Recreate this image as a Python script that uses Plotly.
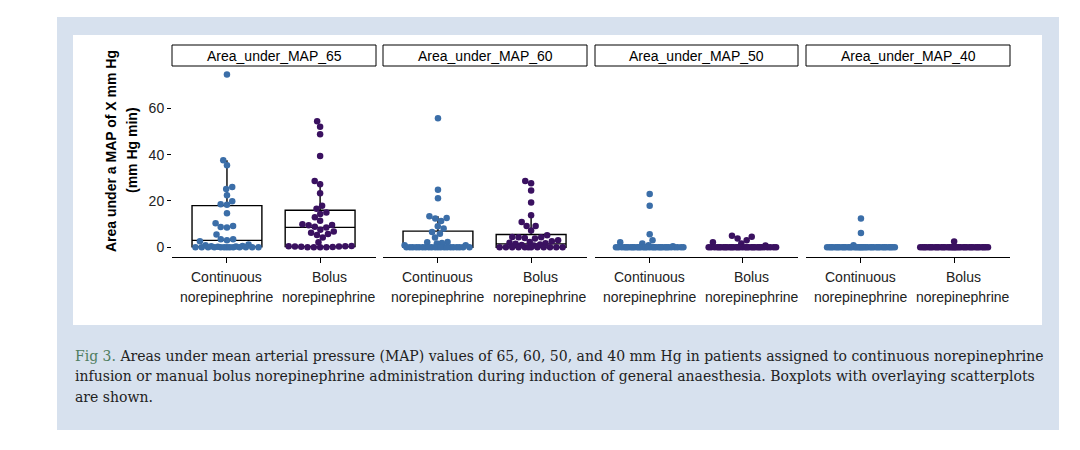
import plotly.graph_objects as go

# --- data (mm Hg min) ---
panels = ["Area_under_MAP_65", "Area_under_MAP_60", "Area_under_MAP_50", "Area_under_MAP_40"]
groups = ["Continuous<br>norepinephrine", "Bolus<br>norepinephrine"]

map65_cont = [74.6, 37.6, 35.4, 26.0, 25.2, 22.5, 19.9, 18.6, 18.4, 14.7, 10.4, 9.2, 8.8, 8.5,
              5.5, 3.5, 3.5, 3.0, 2.6, 1.2, 0.9, 0.6, 0.5, 0.3, 0.2,
              0, 0, 0, 0, 0, 0, 0, 0, 0, 0, 0, 0, 0]
map65_bolus = [54.4, 52.0, 48.8, 39.4, 28.6, 27.2, 23.3, 17.9, 16.6, 15.0, 14.4, 13.0, 11.5,
               9.9, 9.6, 9.5, 8.9, 8.5, 7.6, 6.8, 6.3, 5.7, 5.3, 4.2, 2.2,
               0.6, 0.5, 0.4, 0.3, 0.3, 0.2, 0.1, 0, 0, 0, 0]
map60_cont = [55.7, 24.8, 21.2, 13.4, 12.7, 12.4, 11.4, 9.1, 8.1, 6.6, 5.9, 4.2, 2.3, 2.2,
              1.9, 1.6, 0.9, 0.9,
              0, 0, 0, 0, 0, 0, 0, 0, 0, 0, 0, 0, 0, 0, 0, 0, 0, 0, 0, 0]
map60_bolus = [28.6, 27.6, 24.5, 19.3, 13.8, 10.9, 9.2, 9.2, 7.3, 5.2, 4.5, 4.3, 4.3, 4.0,
               3.8, 3.0, 2.6, 2.3, 2.0, 1.8, 1.5, 1.2, 1.0, 0.8,
               0, 0, 0, 0, 0, 0, 0, 0, 0, 0, 0, 0]
map50_cont = [23.0, 17.9, 5.6, 3.0, 2.2, 1.6, 0.9, 0.5,
              0, 0, 0, 0, 0, 0, 0, 0, 0, 0, 0, 0, 0, 0, 0, 0, 0, 0, 0, 0, 0, 0,
              0, 0, 0, 0, 0, 0, 0, 0]
map50_bolus = [5.0, 4.6, 3.8, 3.0, 2.2, 1.6, 0.8,
               0, 0, 0, 0, 0, 0, 0, 0, 0, 0, 0, 0, 0, 0, 0, 0, 0, 0, 0, 0, 0, 0,
               0, 0, 0, 0, 0, 0, 0, 0]
map40_cont = [12.4, 6.2, 0.9,
              0, 0, 0, 0, 0, 0, 0, 0, 0, 0, 0, 0, 0, 0, 0, 0, 0, 0, 0, 0, 0, 0,
              0, 0, 0, 0, 0, 0, 0, 0, 0, 0, 0, 0, 0]
map40_bolus = [2.5,
               0, 0, 0, 0, 0, 0, 0, 0, 0, 0, 0, 0, 0, 0, 0, 0, 0, 0, 0, 0, 0, 0,
               0, 0, 0, 0, 0, 0, 0, 0, 0, 0, 0, 0, 0]

# box statistics per panel: [continuous, bolus]
box_q1 = [[0.2, 0.3], [0, 0], [0, 0], [0, 0]]
box_median = [[3.0, 8.6], [0.4, 1.5], [0, 0], [0, 0]]
box_q3 = [[18.0, 16.0], [7.0, 5.5], [0, 0], [0, 0]]
box_low = [[0, 0], [0, 0], [0, 0], [0, 0]]
box_high = [[37.6, 28.6], [13.4, 13.8], [0, 0], [0, 0]]

values = [[map65_cont, map65_bolus], [map60_cont, map60_bolus],
          [map50_cont, map50_bolus], [map40_cont, map40_bolus]]

caption_lines = [
    "<span style='color:#4f7d60'>Fig 3.</span> Areas under mean arterial pressure (MAP) values of 65, 60, 50, and 40 mm Hg in patients assigned to continuous norepinephrine",
    "infusion or manual bolus norepinephrine administration during induction of general anaesthesia. Boxplots with overlaying scatterplots",
    "are shown.",
]

# page has an 8px body margin, so the figure is a bit smaller and shifted
OFF = 8
W, H = 1064, 434
colors = ["#3b6ea8", "#3a1160"]
panel_x = [(172, 376), (383, 587), (595, 798), (806, 1010)]
plot_top, plot_bottom = 66, 256.5
x_range = [-0.59, 1.6]
y_range = [-3.97, 78.25]
px_per_x = (376 - 172) / (x_range[1] - x_range[0])
px_per_y = (plot_bottom - plot_top) / (y_range[1] - y_range[0])
label_shift = [0.0, 0.1]


def fx(x):
    return (x - OFF) / W


def fy(y):
    return 1 - (y - OFF) / H


def swarm(vals, d=6.3, maxw=34):
    """beeswarm offsets (in x data units) computed in pixel space"""
    order = sorted(range(len(vals)), key=lambda i: vals[i])
    placed = []
    xs = [0.0] * len(vals)
    for i in order:
        y = vals[i] * px_per_y
        dist = d
        while True:
            cands = [0.0]
            for px, py in placed:
                dy = abs(py - y)
                if dy < dist:
                    dx = (dist ** 2 - dy ** 2) ** 0.5
                    cands += [px - dx, px + dx]
            cands = [c for c in cands if abs(c) <= maxw]
            ok = [c for c in cands
                  if all((c - px) ** 2 + (y - py) ** 2 >= dist ** 2 - 1e-6 for px, py in placed)]
            if ok:
                x = min(ok, key=abs)
                break
            dist *= 0.85
        placed.append((x, y))
        xs[i] = x
    return [x / px_per_x for x in xs]


fig = go.Figure()

for k in range(4):
    xa = "x" if k == 0 else f"x{k + 1}"
    ya = "y" if k == 0 else f"y{k + 1}"
    for g in range(2):
        vals = values[k][g]
        offs = swarm(vals)
        fig.add_trace(go.Scatter(
            x=[g + o for o in offs], y=vals, mode="markers",
            marker=dict(color=colors[g], size=6.5, line=dict(width=0)),
            xaxis=xa, yaxis=ya, showlegend=False, hoverinfo="y",
        ))
    for g in range(2):
        fig.add_trace(go.Box(
            x=[g], q1=[box_q1[k][g]], median=[box_median[k][g]], q3=[box_q3[k][g]],
            lowerfence=[box_low[k][g]], upperfence=[box_high[k][g]],
            width=0.75, whiskerwidth=0, boxpoints=False,
            fillcolor="rgba(0,0,0,0)", line=dict(color="black", width=1.4),
            xaxis=xa, yaxis=ya, showlegend=False,
        ))

layout = dict(
    width=W, height=H,
    margin=dict(l=0, r=0, t=0, b=0),
    paper_bgcolor="white", plot_bgcolor="rgba(0,0,0,0)",
    font=dict(family="Liberation Sans, Arial, sans-serif", size=14, color="#222"),
    showlegend=False,
)

for k in range(4):
    sfx = "" if k == 0 else str(k + 1)
    x0, x1 = panel_x[k]
    layout[f"xaxis{sfx}"] = dict(
        domain=[fx(x0), fx(x1)], range=x_range, anchor=f"y{sfx}",
        showgrid=False, zeroline=False, showline=True, linecolor="black", linewidth=1,
        ticks="outside", ticklen=5, tickcolor="black", tickvals=[0, 1],
        showticklabels=False, fixedrange=True,
    )
    layout[f"yaxis{sfx}"] = dict(
        domain=[fy(plot_bottom), fy(plot_top)], range=y_range, anchor=f"x{sfx}",
        showgrid=False, zeroline=False, showline=False, fixedrange=True,
        tickvals=[0, 20, 40, 60],
        ticks="outside" if k == 0 else "", ticklen=4, tickcolor="black",
        showticklabels=(k == 0), tickfont=dict(size=14, color="#222"),
    )

fig.update_layout(**layout)

shapes = [
    dict(type="rect", xref="paper", yref="paper", x0=fx(57), x1=fx(1059), y0=fy(430), y1=fy(17),
         fillcolor="#d7e1ee", line=dict(width=0), layer="below"),
    dict(type="rect", xref="paper", yref="paper", x0=fx(73), x1=fx(1042), y0=fy(325), y1=fy(35),
         fillcolor="white", line=dict(width=0), layer="below"),
]
annotations = []
for k in range(4):
    x0, x1 = panel_x[k]
    shapes.append(dict(type="rect", xref="paper", yref="paper", x0=fx(x0), x1=fx(x1),
                       y0=fy(66), y1=fy(45), fillcolor="white",
                       line=dict(color="black", width=1)))
    annotations.append(dict(xref="paper", yref="paper", x=fx((x0 + x1) / 2), y=fy(55.5),
                            text=panels[k], showarrow=False, xanchor="center", yanchor="middle",
                            font=dict(size=14, color="black")))
    xa = "x" if k == 0 else f"x{k + 1}"
    for g in range(2):
        top, bottom = groups[g].split("<br>")
        annotations.append(dict(xref=xa, yref="paper", x=g + label_shift[g], y=fy(276.5),
                                text=top, showarrow=False, xanchor="center", yanchor="middle",
                                font=dict(size=14, color="#222")))
        annotations.append(dict(xref=xa, yref="paper", x=g + label_shift[g], y=fy(296.5),
                                text=bottom, showarrow=False, xanchor="center", yanchor="middle",
                                font=dict(size=14, color="#222")))

annotations.append(dict(xref="paper", yref="paper", x=fx(111), y=fy(151),
                        text="<b>Area under a MAP of X mm Hg</b>", textangle=-90,
                        showarrow=False, xanchor="center", yanchor="middle",
                        font=dict(size=14, color="black")))
annotations.append(dict(xref="paper", yref="paper", x=fx(132), y=fy(150),
                        text="<b>(mm Hg min)</b>", textangle=-90,
                        showarrow=False, xanchor="center", yanchor="middle",
                        font=dict(size=14, color="black")))

for i, line in enumerate(caption_lines):
    annotations.append(dict(xref="paper", yref="paper", x=fx(73), y=fy(356 + 20.3 * i),
                            text=line, showarrow=False, xanchor="left", yanchor="middle",
                            font=dict(family="DejaVu Serif, serif", size=14, color="#222")))

fig.update_layout(shapes=shapes, annotations=annotations)

fig.write_html("out.html")
